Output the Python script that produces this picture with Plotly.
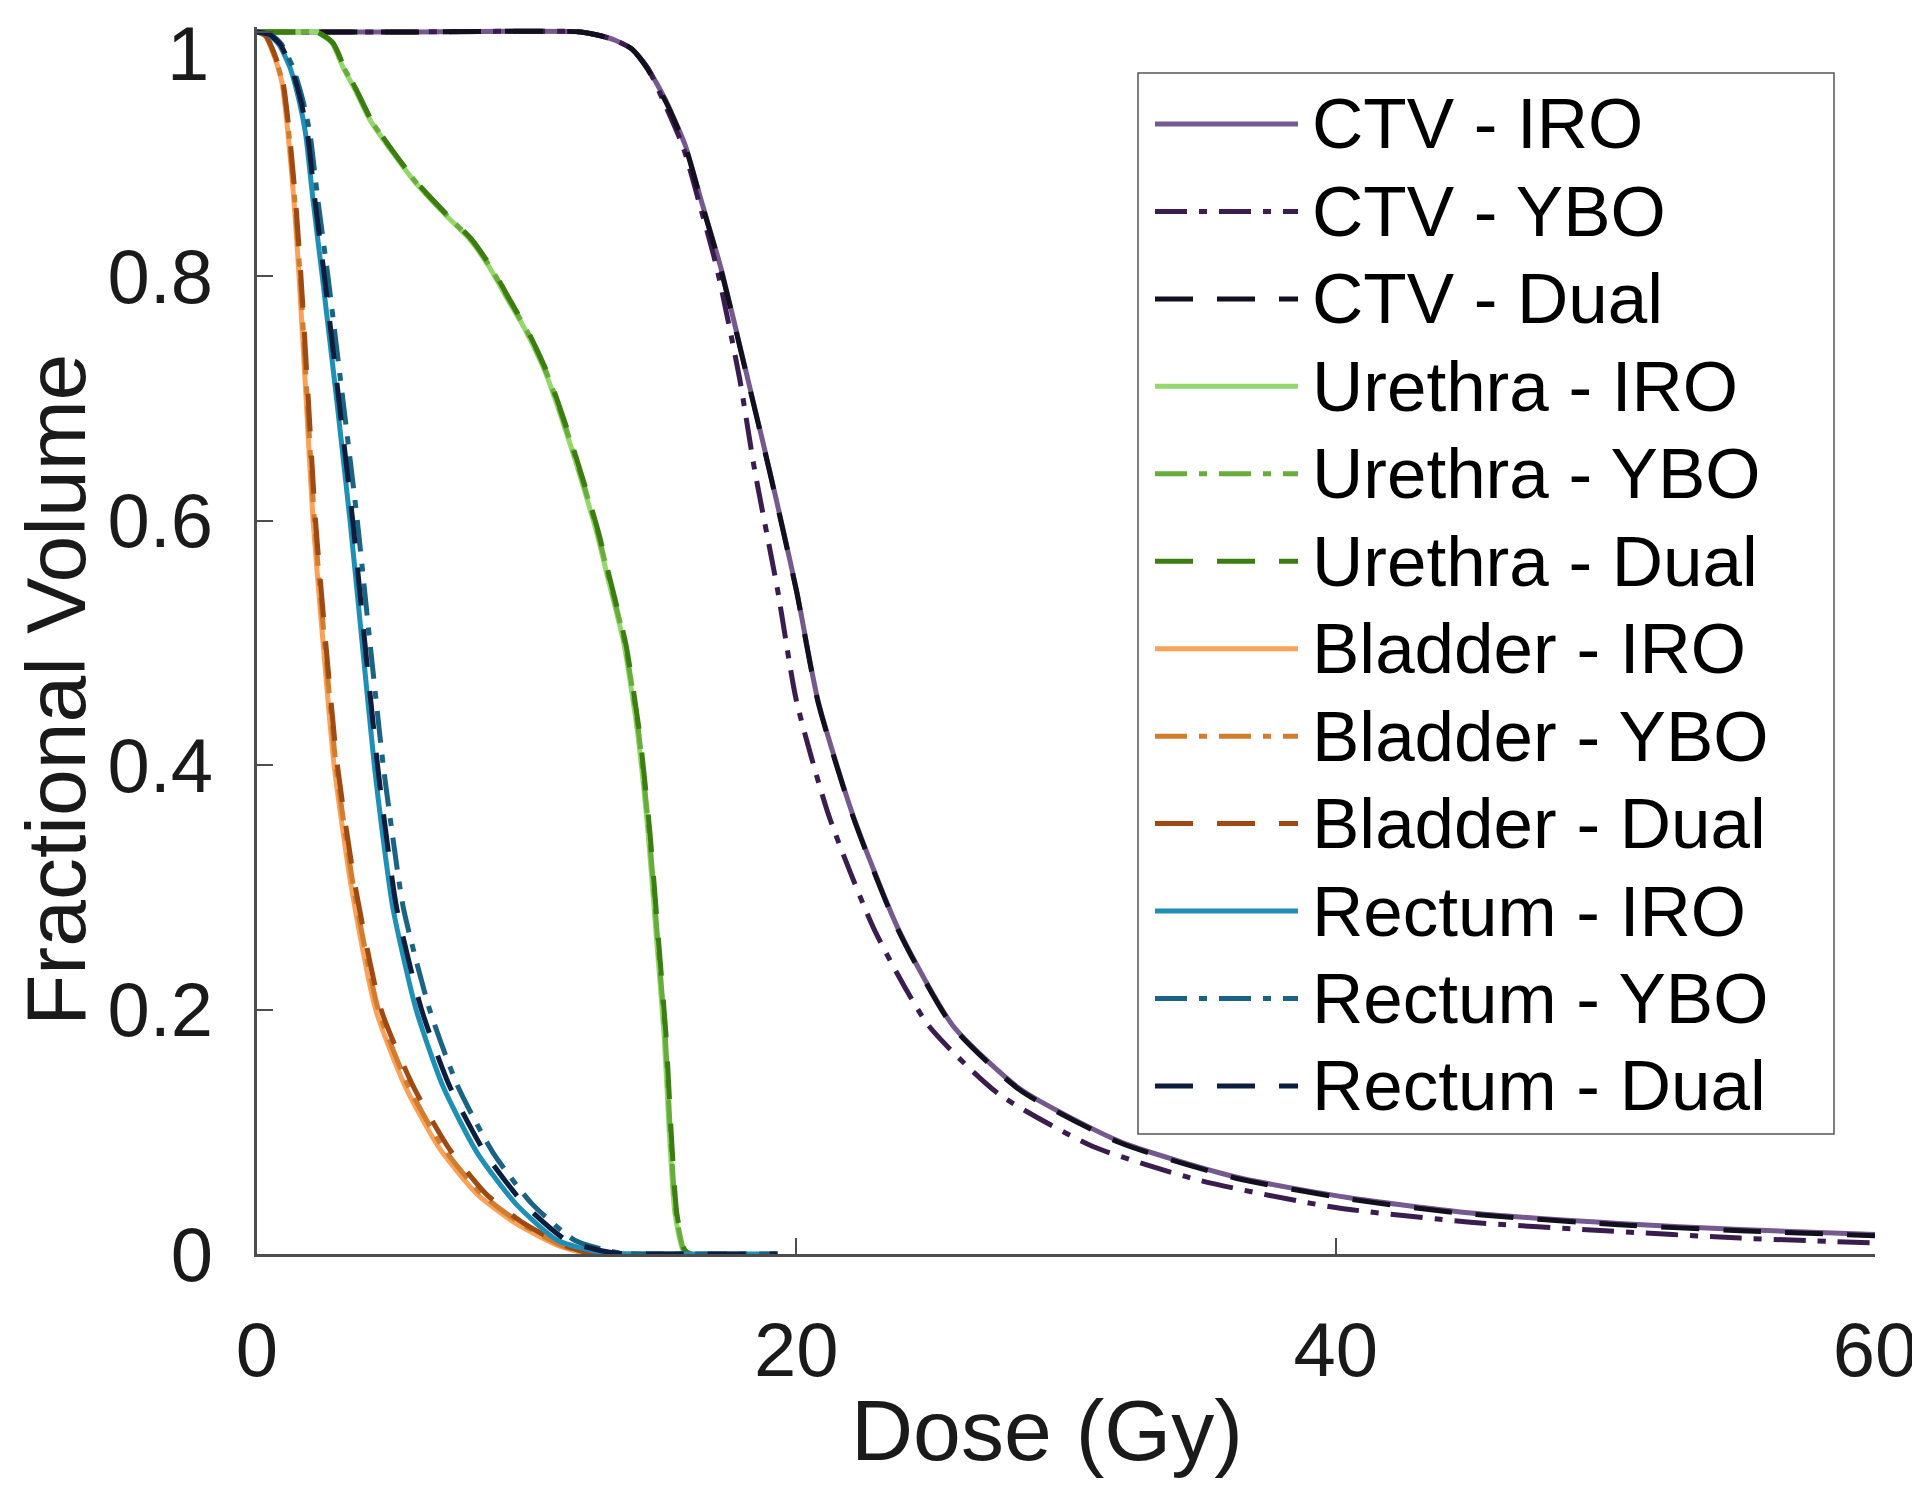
import plotly.graph_objects as go

# ---------------- data ----------------
ctv_iro_dose = [0, 6, 12.0, 12.7, 13.3, 13.9, 14.5, 15.2, 15.9, 16.5, 17.2, 18.2, 19.0, 20.0, 20.8, 22.1, 23.8, 25.8, 28.3, 32.0, 36.3, 40.5, 44.8, 50.5, 55.0, 60.0]
ctv_iro_vol = [1, 1, 1.0, 0.997, 0.993, 0.986, 0.970, 0.942, 0.906, 0.860, 0.807, 0.716, 0.642, 0.544, 0.453, 0.359, 0.265, 0.187, 0.135, 0.092, 0.063, 0.046, 0.034, 0.025, 0.020, 0.016]

ctv_ybo_dose = [0, 6, 12.0, 12.7, 13.3, 13.9, 14.5, 15.1, 15.8, 16.4, 17.05, 17.9, 18.45, 19.3, 20.0, 21.2, 22.9, 24.9, 27.5, 31.0, 35.0, 40.0, 45.0, 50.0, 55.0, 60.0]
ctv_ybo_vol = [1, 1, 1.0, 0.997, 0.993, 0.986, 0.970, 0.942, 0.906, 0.860, 0.807, 0.716, 0.642, 0.544, 0.453, 0.359, 0.265, 0.187, 0.131, 0.088, 0.060, 0.038, 0.026, 0.019, 0.013, 0.009]

ctv_dual_dose = [0, 6, 12.0, 12.7, 13.3, 13.9, 14.5, 15.2, 15.9, 16.5, 17.2, 18.2, 19.0, 20.0, 20.8, 22.1, 23.8, 25.8, 28.3, 32.0, 36.3, 40.5, 44.8, 50.5, 55.0, 60.0]
ctv_dual_vol = [1, 1, 1.0, 0.997, 0.993, 0.986, 0.969, 0.941, 0.905, 0.859, 0.806, 0.715, 0.641, 0.543, 0.452, 0.358, 0.264, 0.186, 0.134, 0.091, 0.062, 0.045, 0.033, 0.024, 0.019, 0.015]

ure_iro_dose = [0, 1.5, 2.2, 2.78, 3.19, 3.63, 4.19, 5.04, 5.9, 7.05, 7.9, 8.6, 9.3, 10.0, 10.7, 11.4, 12.1, 12.6, 13.0, 13.6, 14.1, 14.5, 14.8, 15.1, 15.3, 15.5, 15.8, 16.0]
ure_iro_vol = [1, 1, 1.0, 0.991, 0.971, 0.953, 0.928, 0.901, 0.876, 0.849, 0.830, 0.808, 0.781, 0.754, 0.721, 0.677, 0.628, 0.590, 0.554, 0.500, 0.429, 0.345, 0.262, 0.178, 0.095, 0.033, 0.003, 0.0]

ure_ybo_dose = [0, 1.5, 2.2, 2.80, 3.22, 3.66, 4.22, 5.07, 5.93, 7.08, 7.94, 8.64, 9.34, 10.04, 10.74, 11.44, 12.14, 12.64, 13.04, 13.64, 14.14, 14.54, 14.84, 15.14, 15.34, 15.54, 15.84, 16.05]
ure_ybo_vol = [1, 1, 1.0, 0.991, 0.971, 0.953, 0.928, 0.901, 0.876, 0.849, 0.830, 0.808, 0.781, 0.754, 0.721, 0.677, 0.628, 0.590, 0.554, 0.500, 0.429, 0.345, 0.262, 0.178, 0.095, 0.033, 0.003, 0.0]

ure_dual_dose = [0, 1.5, 2.2, 2.82, 3.24, 3.68, 4.24, 5.09, 5.96, 7.11, 7.97, 8.67, 9.37, 10.07, 10.77, 11.47, 12.17, 12.67, 13.07, 13.67, 14.17, 14.57, 14.87, 15.17, 15.37, 15.57, 15.87, 16.1]
ure_dual_vol = [1, 1, 1.0, 0.991, 0.971, 0.953, 0.928, 0.901, 0.876, 0.849, 0.830, 0.808, 0.781, 0.754, 0.721, 0.677, 0.628, 0.590, 0.554, 0.500, 0.429, 0.345, 0.262, 0.178, 0.095, 0.033, 0.003, 0.0]

bla_iro_dose = [0, 0.3, 0.64, 0.93, 1.15, 1.37, 1.56, 1.82, 2.08, 2.45, 2.86, 3.5, 4.4, 5.5, 6.75, 8.16, 9.6, 11.16, 12.1, 13.5]
bla_iro_vol = [1, 0.997, 0.980, 0.958, 0.917, 0.862, 0.800, 0.700, 0.600, 0.500, 0.400, 0.300, 0.200, 0.137, 0.087, 0.049, 0.025, 0.007, 0.001, 0.0]

bla_ybo_dose = [0, 0.3, 0.66, 0.95, 1.18, 1.40, 1.60, 1.86, 2.13, 2.51, 2.93, 3.58, 4.50, 5.62, 6.90, 8.33, 9.78, 11.3, 12.2, 13.5]
bla_ybo_vol = [1, 0.997, 0.980, 0.958, 0.917, 0.862, 0.800, 0.700, 0.600, 0.500, 0.400, 0.300, 0.200, 0.137, 0.087, 0.049, 0.025, 0.007, 0.001, 0.0]

bla_dual_dose = [0, 0.32, 0.68, 0.97, 1.20, 1.43, 1.63, 1.90, 2.17, 2.55, 2.98, 3.65, 4.60, 5.80, 7.10, 8.50, 9.90, 11.4, 12.3, 13.5]
bla_dual_vol = [1, 0.997, 0.980, 0.958, 0.917, 0.862, 0.800, 0.700, 0.600, 0.500, 0.400, 0.300, 0.200, 0.137, 0.087, 0.049, 0.025, 0.007, 0.001, 0.0]

rec_iro_dose = [0, 0.4, 0.8, 1.22, 1.56, 1.8, 2.08, 2.42, 2.95, 3.45, 3.9, 4.35, 4.62, 5.04, 5.9, 6.9, 8.16, 9.6, 11.16, 12.87, 15.0, 19.3]
rec_iro_vol = [1, 0.998, 0.990, 0.971, 0.944, 0.917, 0.862, 0.800, 0.700, 0.600, 0.500, 0.400, 0.350, 0.283, 0.200, 0.137, 0.083, 0.041, 0.011, 0.001, 0.0, 0.0]

rec_ybo_dose = [0, 0.5, 0.9, 1.33, 1.70, 1.96, 2.26, 2.63, 3.18, 3.72, 4.19, 4.68, 4.98, 5.43, 6.40, 7.45, 8.75, 10.2, 11.8, 13.4, 15.2, 19.3]
rec_ybo_vol = [1, 0.998, 0.990, 0.971, 0.944, 0.917, 0.862, 0.800, 0.700, 0.600, 0.500, 0.400, 0.350, 0.283, 0.200, 0.137, 0.083, 0.041, 0.011, 0.001, 0.0, 0.0]

rec_dual_dose = [0, 0.45, 0.85, 1.27, 1.62, 1.87, 2.15, 2.50, 3.03, 3.55, 4.00, 4.47, 4.75, 5.18, 6.10, 7.15, 8.45, 9.90, 11.5, 13.2, 15.0, 19.3]
rec_dual_vol = [1, 0.998, 0.990, 0.971, 0.944, 0.917, 0.862, 0.800, 0.700, 0.600, 0.500, 0.400, 0.350, 0.283, 0.200, 0.137, 0.083, 0.041, 0.011, 0.001, 0.0, 0.0]

series_names = ["CTV - IRO", "CTV - YBO", "CTV - Dual",
                "Urethra - IRO", "Urethra - YBO", "Urethra - Dual",
                "Bladder - IRO", "Bladder - YBO", "Bladder - Dual",
                "Rectum - IRO", "Rectum - YBO", "Rectum - Dual"]
series_dose = [ctv_iro_dose, ctv_ybo_dose, ctv_dual_dose,
               ure_iro_dose, ure_ybo_dose, ure_dual_dose,
               bla_iro_dose, bla_ybo_dose, bla_dual_dose,
               rec_iro_dose, rec_ybo_dose, rec_dual_dose]
series_vol = [ctv_iro_vol, ctv_ybo_vol, ctv_dual_vol,
              ure_iro_vol, ure_ybo_vol, ure_dual_vol,
              bla_iro_vol, bla_ybo_vol, bla_dual_vol,
              rec_iro_vol, rec_ybo_vol, rec_dual_vol]

x_ticks = [0, 20, 40, 60]
y_ticks = [0, 0.2, 0.4, 0.6, 0.8, 1.0]
y_tick_text = ["0", "0.2", "0.4", "0.6", "0.8", "1"]

# ---------------- styles ----------------
colors = ["#765a8f", "#3b1c4e", "#120f1e",
          "#93d86a", "#67ad3c", "#3c7d12",
          "#f9a25a", "#d27d2e", "#9e4a12",
          "#1e8fb5", "#1b6382", "#0c1d40"]
SOLID = "solid"
DASHDOT = "32px,12px,8px,12px"
DASH = "38px,24px"
dashes = [SOLID, DASHDOT, DASH] * 4
LW = 5
FONT = "Liberation Sans, Arial, Helvetica, sans-serif"
TICK_SIZE = 76

# page has an 8px body margin: figure drawn from page (8, 8)
OFF = 8
W, H = 1920 - OFF, 1488 - OFF
ML, MR, MT, MB = 249, 45, 19, 234
PW = W - ML - MR
PH = H - MT - MB


def pxx(page_x):
    return (page_x - OFF - ML) / PW


def pxy(page_y):
    return (H - MB - (page_y - OFF)) / PH


fig = go.Figure()
for name, d, v, c, ds in zip(series_names, series_dose, series_vol, colors, dashes):
    fig.add_trace(go.Scatter(x=d, y=v, mode="lines", name=name, showlegend=False,
                             line=dict(color=c, width=LW, dash=ds, shape="spline", smoothing=0.6)))

# ---------------- custom legend (long line samples like the original) ----------------
shapes = [dict(type="rect", xref="paper", yref="paper",
               x0=pxx(1138), x1=pxx(1834), y0=pxy(1134), y1=pxy(73),
               line=dict(color="#555555", width=1.5), fillcolor="white", layer="above")]
annotations = []
row0, drow = 124, 87.45
for i, (name, c, ds) in enumerate(zip(series_names, colors, dashes)):
    yy = row0 + i * drow
    shapes.append(dict(type="line", xref="paper", yref="paper",
                       x0=pxx(1155), x1=pxx(1298), y0=pxy(yy), y1=pxy(yy),
                       line=dict(color=c, width=5, dash=ds), layer="above"))
    annotations.append(dict(xref="paper", yref="paper", x=pxx(1310), y=pxy(yy),
                            xanchor="left", yanchor="middle", showarrow=False,
                            text=name, font=dict(family=FONT, size=71, color="#000000")))

# the top tick label ("1") sits at the very top edge: drawn as its own text so it stays inside
shown_tick_text = y_tick_text[:-1] + [""]
annotations.append(dict(xref="paper", yref="paper", x=pxx(211), y=pxy(9),
                        xanchor="right", yanchor="top", showarrow=False,
                        text=y_tick_text[-1], font=dict(family=FONT, size=TICK_SIZE, color="#1a1a1a")))

# axis titles
annotations.append(dict(xref="paper", yref="paper", x=pxx(1047), y=pxy(1430),
                        xanchor="center", yanchor="middle", showarrow=False,
                        text="Dose (Gy)", font=dict(family=FONT, size=86, color="#1a1a1a")))
annotations.append(dict(xref="paper", yref="paper", x=pxx(56), y=pxy(690),
                        xanchor="center", yanchor="middle", showarrow=False, textangle=-90,
                        text="Fractional Volume", font=dict(family=FONT, size=84, color="#1a1a1a")))

axis_common = dict(showgrid=False, zeroline=False, showline=True, linecolor="#4d4d4d",
                   linewidth=2.5, ticks="inside", ticklen=16, tickwidth=2,
                   tickcolor="#4d4d4d", mirror=False, ticklabeloverflow="allow",
                   automargin=False,
                   tickfont=dict(family=FONT, size=TICK_SIZE, color="#1a1a1a"))

fig.update_layout(
    width=W, height=H,
    margin=dict(l=ML, r=MR, t=MT, b=MB, pad=0, autoexpand=False),
    paper_bgcolor="white", plot_bgcolor="white",
    showlegend=False,
    xaxis=dict(range=[0, 60], tickvals=x_ticks, ticktext=[str(t) for t in x_ticks],
               ticklabelstandoff=28, **axis_common),
    yaxis=dict(range=[0, 1.004], tickvals=y_ticks, ticktext=shown_tick_text,
               ticklabelstandoff=26, **axis_common),
    shapes=shapes,
    annotations=annotations,
)

fig.write_html("out.html")
